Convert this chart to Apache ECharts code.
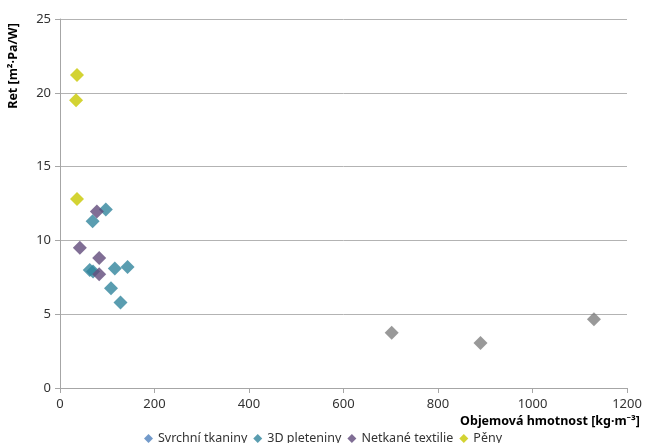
<!DOCTYPE html>
<html><head><meta charset="utf-8">
<script src="https://cdn.jsdelivr.net/npm/echarts@6/dist/echarts.min.js"></script>
<style>html,body{margin:0;padding:0;background:#fff}#c{width:646px;height:443px}</style>
</head><body><div id="c"></div>
<script>
const seriesNames = ['Svrchní tkaniny', '3D pleteniny', 'Netkané textilie', 'Pěny'];
const svrchniTkaniny = [];
const pleteniny3D = [[97,12.1],[69,11.3],[63,8.0],[70,7.9],[116,8.1],[143,8.2],[108,6.75],[128,5.8]];
const netkaneTextilie = [[78,11.95],[42,9.5],[83,8.8],[83,7.7]];
const peny = [[36,21.2],[34,19.5],[36,12.8]];
const ostatni = [[702,3.75],[890,3.05],[1130,4.65]];
const xTicks = [0,1200,200];
const yTicks = [0,25,5];

const colors = ['#4F81BD','#31859C','#604A7B','#C8C800','#7F7F7F'];
const font = 'Noto Sans';
const chart = echarts.init(document.getElementById('c'));
function mk(name, data, color){
  return {name, type:'scatter', data, symbol:'diamond', symbolSize:14,
    itemStyle:{color}, emphasis:{disabled:true}};
}
chart.setOption({
  animation:false,
  grid:{left:60, right:19, top:19, bottom:55},
  legend:{data:seriesNames.map((n,i)=>({name:n, icon:'diamond', itemStyle:{color:colors[i]}})),
    bottom:-7, left:'center', itemWidth:9, itemHeight:9, itemGap:6,
    textStyle:{fontFamily:font, fontSize:12.5, color:'#333'}},
  xAxis:{type:'value', min:xTicks[0], max:xTicks[1], interval:xTicks[2],
    axisLine:{show:true, lineStyle:{color:'#a6a6a6'}},
    axisTick:{show:true, length:5, inside:false, lineStyle:{color:'#a6a6a6'}},
    splitLine:{show:false},
    axisLabel:{fontFamily:font, fontSize:13, color:'#333', margin:10, formatter:v=>String(v)}},
  yAxis:{type:'value', min:yTicks[0], max:yTicks[1], interval:yTicks[2],
    axisLine:{show:true, lineStyle:{color:'#a6a6a6'}},
    axisTick:{show:true, length:5, lineStyle:{color:'#a6a6a6'}},
    splitLine:{show:true, lineStyle:{color:'#b3b3b3'}},
    axisLabel:{fontFamily:font, fontSize:13, color:'#333', margin:9, formatter:v=>String(v)}},
  graphic:[
    {type:'text', x:13, y:66, rotation:Math.PI/2, style:{text:'Ret [m²·Pa/W]', fontFamily:font, fontSize:12.5, fontWeight:'bold', fill:'#000', align:'center', verticalAlign:'middle'}},
    {type:'text', right:6, top:415, style:{text:'Objemová hmotnost [kg·m⁻³]', fontFamily:font, fontSize:12.5, fontWeight:'bold', fill:'#000'}}
  ],
  series:[
    mk(seriesNames[0], svrchniTkaniny, colors[0]),
    mk(seriesNames[1], pleteniny3D, colors[1]),
    mk(seriesNames[2], netkaneTextilie, colors[2]),
    mk(seriesNames[3], peny, colors[3]),
    mk('ostatní', ostatni, colors[4])
  ]
});
</script></body></html>
